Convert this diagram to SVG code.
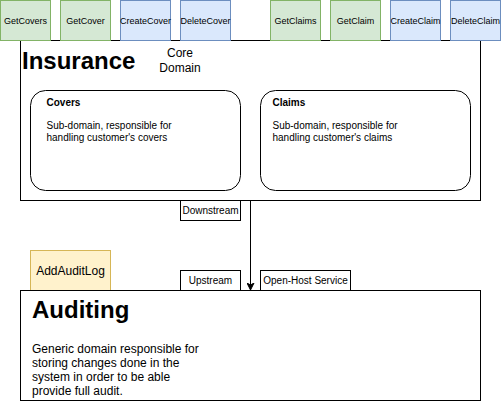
<svg xmlns="http://www.w3.org/2000/svg" width="501" height="414" viewBox="0 0 501 414">
<defs>
<style>
text{font-family:"Liberation Sans",Arial,sans-serif;fill:#000}
.g{fill:#d5e8d4;stroke:#82b366}
.b{fill:#dae8fc;stroke:#6c8ebf}
.w{fill:#fff;stroke:#000}
.btn{font-size:9px;text-anchor:middle}
.lbl{font-size:10px;text-anchor:middle}
.big{font-size:24px;font-weight:bold}
.s10{font-size:10px}
.s12{font-size:12px}
</style>
<marker id="arr" markerWidth="8" markerHeight="8" refX="7" refY="4" orient="auto" markerUnits="userSpaceOnUse">
<path d="M0,0.5 L7,4 L0,7.5 L2,4 Z" fill="#000" stroke="#000" stroke-width="1"/>
</marker>
</defs>
<rect width="501" height="414" fill="#fff"/>

<g id="insurance">
<rect class="w" x="20.5" y="40.5" width="460" height="160"/>
<text class="big" x="22" y="69">Insurance</text>
<text class="s12" x="180" y="57" text-anchor="middle">Core</text>
<text class="s12" x="180" y="72" text-anchor="middle">Domain</text>
</g>

<g id="covers">
<rect class="w" x="30.5" y="90.5" width="210" height="100" rx="15" ry="15"/>
<text class="s10" x="46.5" y="106" font-weight="bold">Covers</text>
<text class="s10" x="46.5" y="129">Sub-domain, responsible for</text>
<text class="s10" x="46.5" y="141">handling customer's covers</text>
</g>

<g id="claims">
<rect class="w" x="260.5" y="90.5" width="210" height="100" rx="15" ry="15"/>
<text class="s10" x="272.5" y="106" font-weight="bold">Claims</text>
<text class="s10" x="272.5" y="129">Sub-domain, responsible for</text>
<text class="s10" x="272.5" y="141">handling customer's claims</text>
</g>

<g id="getcovers"><rect class="g" x="0.5" y="0.5" width="50" height="40"/><text class="btn" x="25.5" y="23.5">GetCovers</text></g>
<g id="getcover"><rect class="g" x="60.5" y="0.5" width="50" height="40"/><text class="btn" x="85.5" y="23.5">GetCover</text></g>
<g id="createcover"><rect class="b" x="120.5" y="0.5" width="50" height="40"/><text class="btn" x="145.5" y="23.5">CreateCover</text></g>
<g id="deletecover"><rect class="b" x="180.5" y="0.5" width="50" height="40"/><text class="btn" x="205.5" y="23.5">DeleteCover</text></g>
<g id="getclaims"><rect class="g" x="270.5" y="0.5" width="50" height="40"/><text class="btn" x="295.5" y="23.5">GetClaims</text></g>
<g id="getclaim"><rect class="g" x="330.5" y="0.5" width="50" height="40"/><text class="btn" x="355.5" y="23.5">GetClaim</text></g>
<g id="createclaim"><rect class="b" x="390.5" y="0.5" width="50" height="40"/><text class="btn" x="415.5" y="23.5">CreateClaim</text></g>
<g id="deleteclaim"><rect class="b" x="450.5" y="0.5" width="50" height="40"/><text class="btn" x="475.5" y="23.5">DeleteClaim</text></g>

<g id="connectors">
<line x1="250.5" y1="200.5" x2="250.5" y2="290" stroke="#000" stroke-width="1" marker-end="url(#arr)"/>
</g>

<g id="downstream"><rect class="w" x="180.5" y="200.5" width="60" height="20"/><text class="lbl" x="210.5" y="214">Downstream</text></g>
<g id="upstream"><rect class="w" x="180.5" y="270.5" width="60" height="20"/><text class="lbl" x="210.5" y="284">Upstream</text></g>
<g id="openhost"><rect class="w" x="260.5" y="270.5" width="90" height="20"/><text class="lbl" x="305.5" y="284">Open-Host Service</text></g>

<g id="addauditlog"><rect x="30.5" y="250.5" width="80" height="40" fill="#fff2cc" stroke="#d6b656"/><text class="s12" x="70.5" y="274.5" text-anchor="middle">AddAuditLog</text></g>

<g id="auditing">
<rect class="w" x="20.5" y="290.5" width="460" height="110"/>
<text class="big" x="32" y="318">Auditing</text>
<text class="s12" x="32" y="353">Generic domain responsible for</text>
<text class="s12" x="32" y="367">storing changes done in the</text>
<text class="s12" x="32" y="381">system in order to be able</text>
<text class="s12" x="32" y="395">provide full audit.</text>
</g>
</svg>
